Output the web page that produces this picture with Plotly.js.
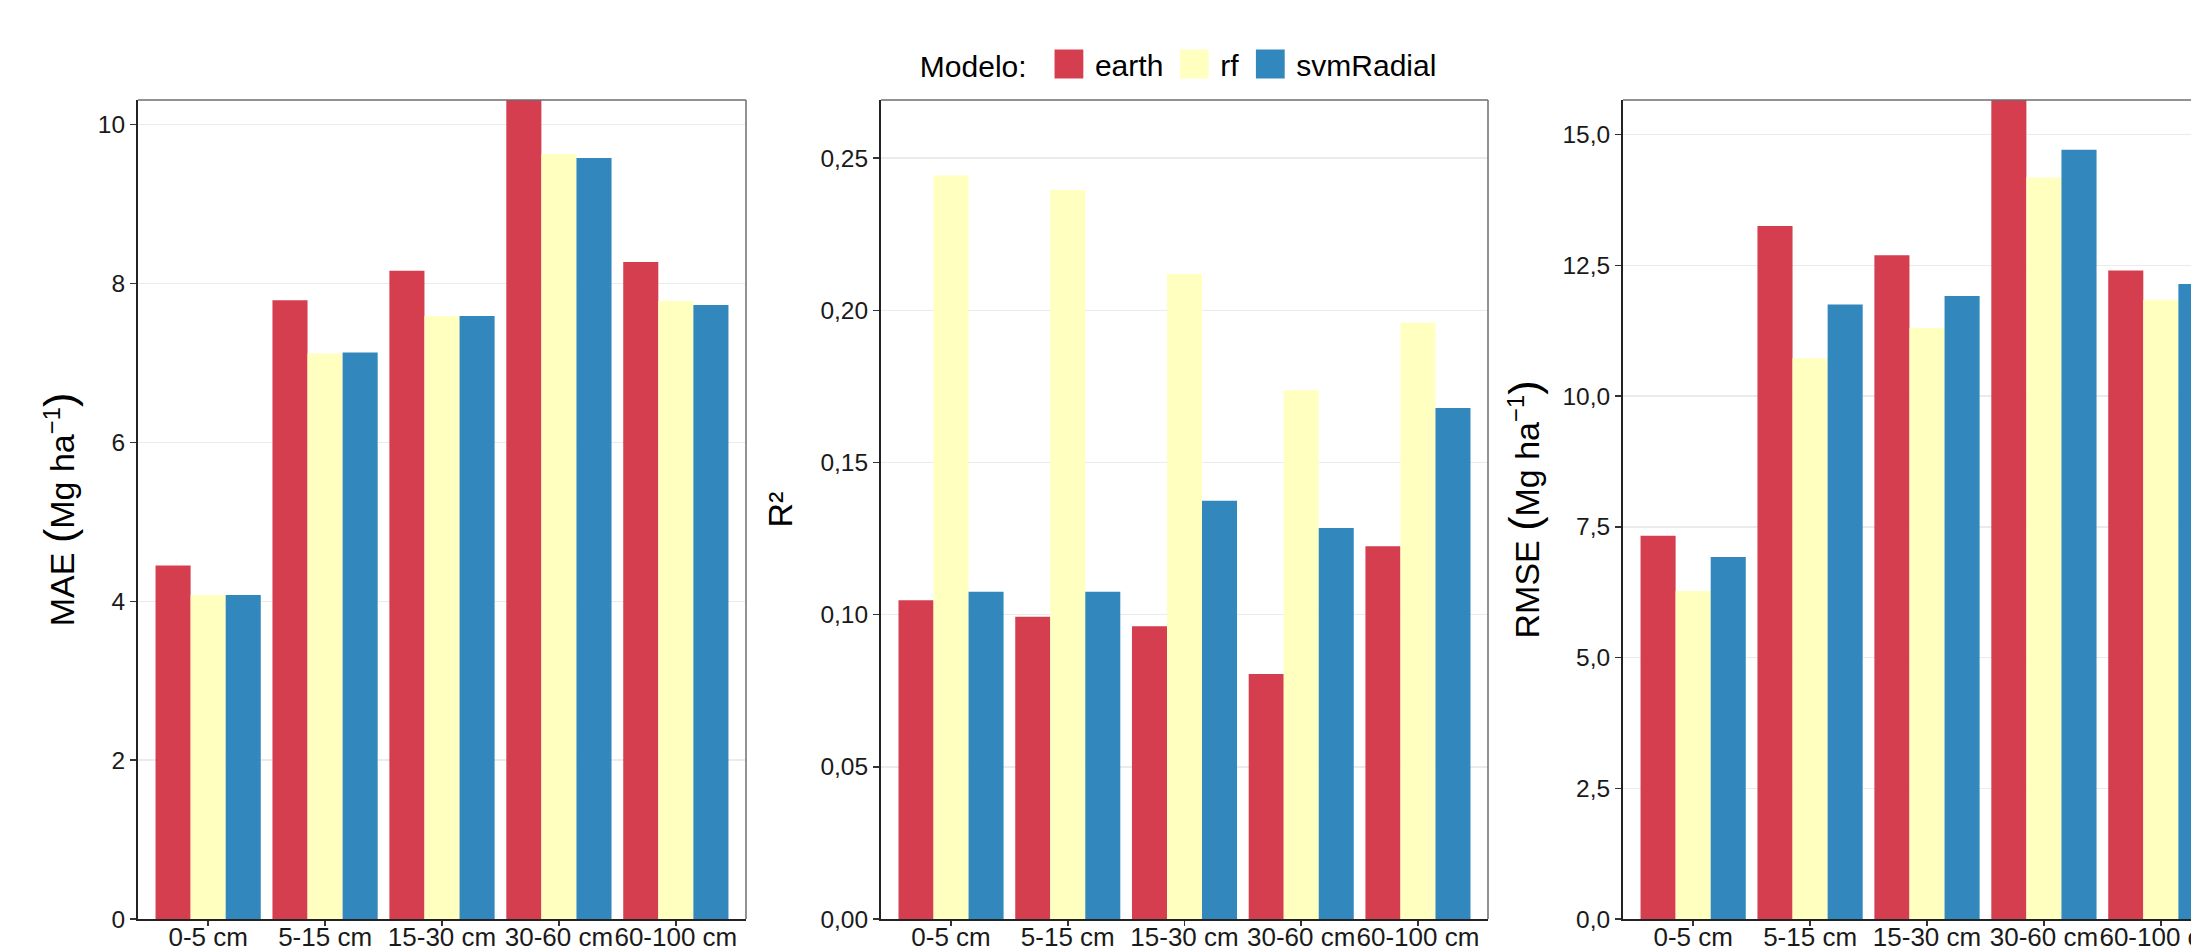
<!DOCTYPE html>
<html>
<head>
<meta charset="utf-8">
<script src="https://cdn.plot.ly/plotly-3.0.1.min.js"></script>
<style>
  html, body { margin: 0; padding: 0; background: #ffffff; overflow: hidden; }
  #chart { width: 2191px; height: 946px; }
</style>
</head>
<body>
<div id="chart"></div>
<script>
// ---- data ----
const categories = ['0-5 cm', '5-15 cm', '15-30 cm', '30-60 cm', '60-100 cm'];
const models = ['earth', 'rf', 'svmRadial'];
const modelColors = ['#D53E4F', '#FFFFBF', '#3288BD'];

const maeEarth = [4.45, 7.79, 8.16, 10.31, 8.27];
const maeRf    = [4.08, 7.12, 7.59, 9.63, 7.78];
const maeSvm   = [4.08, 7.13, 7.59, 9.58, 7.73];

const r2Earth = [0.1047, 0.0993, 0.0962, 0.0805, 0.1225];
const r2Rf    = [0.2443, 0.2395, 0.2119, 0.1737, 0.1959];
const r2Svm   = [0.1075, 0.1075, 0.1374, 0.1285, 0.1679];

const rmseEarth = [7.33, 13.25, 12.69, 15.66, 12.40];
const rmseRf    = [6.27, 10.72, 11.30, 14.18, 11.84];
const rmseSvm   = [6.92, 11.75, 11.91, 14.71, 12.14];

const maeTickVals = [0, 2, 4, 6, 8, 10];
const maeTickText = ['0', '2', '4', '6', '8', '10'];
const r2TickVals = [0, 0.05, 0.10, 0.15, 0.20, 0.25];
const r2TickText = ['0,00', '0,05', '0,10', '0,15', '0,20', '0,25'];
const rmseTickVals = [0, 2.5, 5, 7.5, 10, 12.5, 15];
const rmseTickText = ['0,0', '2,5', '5,0', '7,5', '10,0', '12,5', '15,0'];

const panels = [
  { series: [maeEarth, maeRf, maeSvm], xa: 'x', ya: 'y' },
  { series: [r2Earth, r2Rf, r2Svm], xa: 'x2', ya: 'y2' },
  { series: [rmseEarth, rmseRf, rmseSvm], xa: 'x3', ya: 'y3' }
];

// ---- traces ----
const traces = [];
panels.forEach(function (p, pi) {
  p.series.forEach(function (vals, mi) {
    traces.push({
      type: 'bar',
      x: categories,
      y: vals,
      name: models[mi],
      legendgroup: models[mi],
      showlegend: pi === 0,
      xaxis: p.xa,
      yaxis: p.ya,
      marker: { color: modelColors[mi], line: { width: 0 } },
      hoverinfo: 'skip'
    });
  });
});

// ---- layout ----
const W = 2191, H = 946;
const FONT = 'Liberation Sans, Arial, Helvetica, sans-serif';
const yBottom = (H - 919) / H, yTop = (H - 100) / H;

function xAxis(domain, range) {
  return {
    domain: domain,
    type: 'category',
    range: range,
    showgrid: false,
    zeroline: false,
    showline: true,
    linecolor: '#222222',
    linewidth: 2,
    mirror: false,
    ticks: 'outside',
    ticklen: 5,
    tickwidth: 1.5,
    tickcolor: '#333333',
    tickangle: 0,
    ticklabelstandoff: -11,
    tickfont: { family: FONT, size: 26, color: '#1a1a1a' },
    fixedrange: true
  };
}
function yAxis(anchor, range, vals, text, title, standoff) {
  return {
    domain: [yBottom, yTop],
    anchor: anchor,
    range: range,
    tickmode: 'array',
    tickvals: vals,
    ticktext: text,
    showgrid: true,
    gridcolor: '#EBEBEB',
    gridwidth: 1.5,
    zeroline: false,
    showline: true,
    linecolor: '#222222',
    linewidth: 2,
    mirror: false,
    ticks: 'outside',
    ticklen: 6,
    tickwidth: 1.5,
    tickcolor: '#333333',
    tickfont: { family: FONT, size: 24.5, color: '#1a1a1a' },
    title: { text: title, font: { family: FONT, size: 34, color: '#000000' }, standoff: standoff },
    fixedrange: true
  };
}

const d1 = [138 / W, 746 / W];
const d2 = [881 / W, 1488 / W];
const d3 = [1623 / W, 1];
const unitPx = 608 / 5.2;
const r3max = -0.6 + (W - 1623) / unitPx;

function borderLines(xref, yref, withRight) {
  const s = [{
    type: 'line', xref: xref + ' domain', yref: yref + ' domain',
    x0: 0, x1: 1, y0: 1, y1: 1,
    line: { color: '#6e6e6e', width: 1.5 }, layer: 'above'
  }];
  if (withRight) {
    s.push({
      type: 'line', xref: xref + ' domain', yref: yref + ' domain',
      x0: 1, x1: 1, y0: 0, y1: 1,
      line: { color: '#6e6e6e', width: 1.5 }, layer: 'above'
    });
  }
  return s;
}

const PL = '<span style="font-size:43px">(</span>';
const PR = '<span style="font-size:43px">)</span>';
const LEAD_MAE = '\u00A0\u00A0\u00A0\u00A0\u00A0\u00A0';
const LEAD_RMSE = '\u00A0\u00A0\u00A0\u00A0';

const layout = {
  width: W,
  height: H,
  margin: { l: 0, r: 0, t: 0, b: 0, pad: 0 },
  paper_bgcolor: '#ffffff',
  plot_bgcolor: '#ffffff',
  font: { family: FONT, color: '#000000' },
  barmode: 'group',
  bargap: 0.1,
  bargroupgap: 0,
  showlegend: true,
  legend: {
    orientation: 'h',
    x: 0.5385,
    xanchor: 'center',
    y: (H - 64) / H,
    yanchor: 'middle',
    itemwidth: 42,
    font: { family: FONT, size: 30, color: '#000000' },
    title: { text: 'Modelo: ', side: 'left', font: { family: FONT, size: 30, color: '#000000' } },
    bgcolor: 'rgba(0,0,0,0)',
    traceorder: 'normal',
    itemclick: false,
    itemdoubleclick: false
  },
  xaxis: Object.assign(xAxis(d1, [-0.6, 4.6]), { anchor: 'y' }),
  xaxis2: Object.assign(xAxis(d2, [-0.6, 4.6]), { anchor: 'y2' }),
  xaxis3: Object.assign(xAxis(d3, [-0.6, r3max]), { anchor: 'y3' }),
  yaxis: yAxis('x', [0, 10.31], maeTickVals, maeTickText, LEAD_MAE + 'MAE ' + PL + 'Mg ha<sup>−1</sup>' + PR, 13),
  yaxis2: yAxis('x2', [0, 0.2691], r2TickVals, r2TickText, 'R²', 18),
  yaxis3: yAxis('x3', [0, 15.66], rmseTickVals, rmseTickText, LEAD_RMSE + 'RMSE ' + PL + 'Mg ha<sup>−1</sup>' + PR, 13),
  shapes: [].concat(borderLines('x', 'y', true), borderLines('x2', 'y2', true), borderLines('x3', 'y3', false))
};

Plotly.newPlot('chart', traces, layout, { displayModeBar: false, staticPlot: true, responsive: false }).then(function (gd) {
  // enlarge the legend key squares to the size used in the reference
  gd.querySelectorAll('.legend .legendpoints path').forEach(function (p) {
    const t = p.getAttribute('transform') || '';
    p.setAttribute('transform', t + ' scale(2.4)');
  });
});
</script>
</body>
</html>
